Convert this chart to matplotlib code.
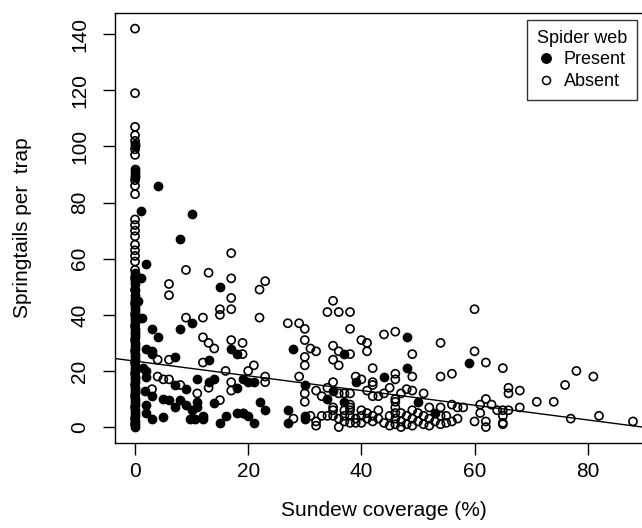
import matplotlib
matplotlib.use("Agg")
import matplotlib.pyplot as plt
from matplotlib.lines import Line2D

plt.rcParams['font.family'] = ['Liberation Sans', 'DejaVu Sans']

# ---------------- data ----------------
# Spider web present (filled circles)
present_col_y = [101, 100, 92, 91, 90, 89, 55, 54, 52, 51, 49, 47, 46, 45, 43, 42, 41, 39,
                 38, 37, 35, 34, 33, 32, 30, 29, 28, 26, 25, 24, 22, 21, 20, 18, 17, 16,
                 14, 13, 12, 10, 9, 8, 6, 5, 4, 2, 1, 0]
present_x = [4, 1, 10, 8, 2, 1, 15, 0.5, 10, 8, 3, 1.2, 4, 17, 2, 3, 3, 7, 13, 1.4, 2, 2,
             11, 14, 13, 7, 9, 18, 1.8, 3, 5, 6, 8, 11, 14, 2, 9, 7, 10, 11, 2, 12, 18, 19,
             16, 3, 5, 9.7, 10.6, 12, 15, 18,
             28, 37, 19, 20, 21, 30, 39, 35, 34, 37, 22, 23, 19, 20, 21, 27, 27, 30, 30,
             48, 59, 48, 44, 50, 53]
present_y = [86, 77, 76, 67, 58, 53, 50, 45, 37, 35, 35, 39, 32, 28, 28, 27, 26, 25, 24, 21, 20, 18,
             17, 17, 16, 15, 13.5, 14, 13, 11, 10, 9.6, 9.6, 9, 8.5, 8, 8, 7, 6, 7, 5, 4, 5, 5,
             4, 3, 3.5, 3, 3, 3, 1.5, 26,
             28, 26, 17, 16, 16, 15, 16, 13, 10, 9, 9, 6, 5, 4, 1.5, 6, 1.5, 4, 3,
             32, 23, 21, 18, 9, 5]

# Spider web absent (open circles)
absent_col_y = [142, 119, 107, 104, 102, 99, 97, 88, 86, 83, 74, 72, 70, 68, 65, 63, 61,
                59, 56, 53, 49, 44, 40, 36, 31, 27, 23, 19, 15, 11, 7, 3, 1]
absent_x = [17, 9, 13, 17, 6, 6, 17, 15, 15, 17, 9, 12, 12, 13, 14, 17, 19, 4, 6, 12, 16, 4, 5, 6,
            17, 8, 13, 17, 3, 11, 15,
            23, 22, 22, 35, 34, 36, 38, 27, 29, 30, 38, 30, 31, 32, 35, 36, 38, 40, 41, 41,
            30, 35, 36, 30, 42, 19, 21, 20, 23, 23, 29, 39, 40, 35, 34, 32, 33, 30, 30, 36,
            37, 38, 38, 41, 42, 28, 31, 32, 32, 33, 34, 35, 35, 35, 36, 36, 37, 37, 37, 38,
            38, 38, 38, 39, 39, 40, 40, 40, 41, 41, 42, 42,
            60, 44, 46, 54, 49, 60, 62, 65, 46, 46, 49, 54, 56, 42, 42, 45, 48, 49, 47, 51,
            43, 44, 52, 54, 56, 57, 58, 61, 62, 63, 65, 64, 61, 60, 62, 62, 65, 57, 55, 55, 56,
            43, 43, 44, 45, 45, 46, 46, 46, 47, 47, 47, 48, 48, 49, 49, 49, 50, 50, 51, 51,
            52, 52, 53, 54, 54, 46, 46, 46,
            78, 81, 76, 66, 66, 68, 71, 74, 68, 66, 65, 65, 77, 82, 88]
absent_y = [62, 56, 55, 53, 51, 47, 46, 42, 40, 42, 39, 39, 32, 30, 28, 31, 30, 24, 24, 23, 20, 18, 17, 17,
            16, 15, 14, 13, 13.5, 12, 9.6,
            52, 49, 39, 45, 41, 41, 41, 37, 37, 35, 35, 31, 28, 27, 29, 27, 26, 31, 30, 27,
            25, 24, 22, 22, 21, 26, 22, 20, 18, 16, 18, 18, 17, 16, 14, 13, 11, 12, 9, 12,
            12, 12, 8, 13, 11, 3, 4, 2, 0.5, 4, 4, 7, 6, 4, 3, 0, 6, 4, 2, 7,
            6, 4, 1.5, 3, 1.5, 6, 4, 1.5, 5, 3, 4, 2,
            42, 33, 34, 30, 26, 27, 23, 21, 19, 17, 18, 18, 19, 16, 15, 14, 13.5, 13, 12, 12,
            11, 12, 7, 7, 8, 7, 7, 8, 10, 8, 6, 6, 5, 2, 2, 0, 1.5, 3, 4, 1.5, 2,
            6, 3, 1.5, 4, 0.5, 7, 3, 1, 5, 2, 0, 4, 1, 6, 3, 0.5, 5, 2, 4, 1,
            3, 0.5, 2, 4, 1, 9, 10, 5,
            20, 18, 15, 14, 12, 13, 9, 9, 7, 6, 4, 1, 3, 4, 2]

# regression line
intercept = 23.5
slope = -0.262

xticks = [0, 20, 40, 60, 80]
yticks = [0, 20, 40, 60, 80, 100, 120, 140]

# ---------------- figure ----------------
W, H = 642, 528
fig = plt.figure(figsize=(W / 100, H / 100), dpi=100)
left, right, top, bottom = 115, 653, 12.7, 443
ax = fig.add_axes([left / W, 1 - bottom / H, (right - left) / W, (bottom - top) / H])

ms = 34
lw = 1.2
ax.scatter([0] * len(absent_col_y) + absent_x, absent_col_y + absent_y, s=ms,
           facecolors='none', edgecolors='black', linewidths=lw, zorder=2)
ax.scatter([0] * len(present_col_y) + present_x, present_col_y + present_y, s=ms,
           facecolors='black', edgecolors='black', linewidths=lw, zorder=3)

ax.axline((0, intercept), slope=slope, color='black', lw=1.0, zorder=4)

ax.set_xlim(-3.54, 91.54)
ax.set_ylim(-5.68, 147.68)
ax.set_xticks(xticks)
ax.set_yticks(yticks)
ax.set_xticklabels([str(v) for v in xticks])
ax.set_yticklabels([str(v) for v in yticks], rotation=90, va='center')

for sp in ax.spines.values():
    sp.set_linewidth(1.0)
ax.tick_params(axis='both', direction='out', length=8.6, width=1.0, labelsize=15, colors='black')
ax.tick_params(axis='x', pad=5)
ax.tick_params(axis='y', pad=10)

ax.set_xlabel('Sundew coverage (%)', fontsize=15, va='center')
ax.xaxis.set_label_coords(0.5, 1 - 511 / H, transform=matplotlib.transforms.blended_transform_factory(ax.transAxes, fig.transFigure))
ax.set_ylabel('Springtails per  trap', fontsize=15, va='center')
ax.yaxis.set_label_coords(23 / W, 0.5, transform=matplotlib.transforms.blended_transform_factory(fig.transFigure, ax.transAxes))

handles = [Line2D([], [], marker='o', linestyle='none', markersize=6.8, markerfacecolor='black',
                  markeredgecolor='black', markeredgewidth=1.0, label='Present'),
           Line2D([], [], marker='o', linestyle='none', markersize=5.8, markerfacecolor='none',
                  markeredgecolor='black', markeredgewidth=1.1, label='Absent')]
leg = ax.legend(handles=handles, title='Spider web', loc='upper right',
                bbox_to_anchor=(637 / W, 1 - 20 / H), bbox_transform=fig.transFigure,
                fontsize=13, title_fontsize=13, frameon=True, fancybox=False,
                borderaxespad=0, handlelength=0.8, handletextpad=0.6, labelspacing=0.25,
                borderpad=0.55)
leg.get_frame().set_edgecolor('black')
leg.get_frame().set_linewidth(1.0)

fig.savefig('out.png', dpi=100)
